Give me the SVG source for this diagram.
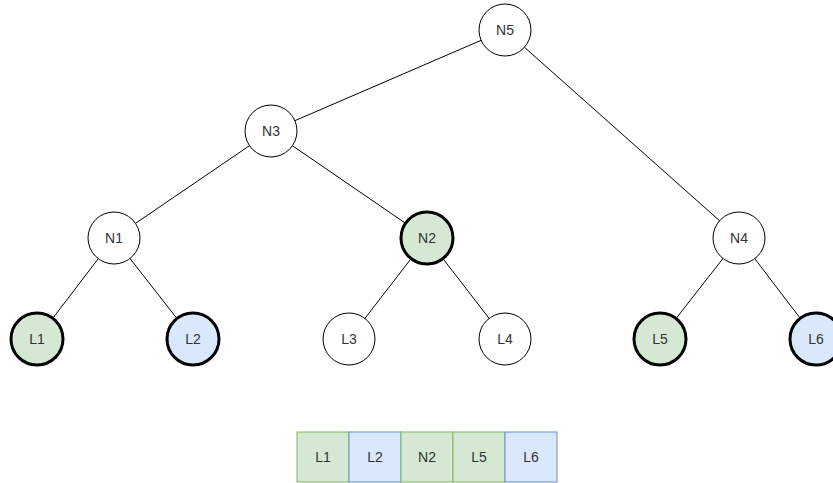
<svg xmlns="http://www.w3.org/2000/svg" width="833" height="483" viewBox="0 0 833 483">
<style>
.n{fill:#ffffff;stroke:#000;stroke-width:1}
.g{fill:#d5e8d4;stroke:#000;stroke-width:3}
.b{fill:#dae8fc;stroke:#000;stroke-width:3}
.e{stroke:#000;stroke-width:1;fill:none}
.t{font-family:"Liberation Sans",Arial,sans-serif;font-size:14px;fill:#333;text-anchor:middle;dominant-baseline:central}
.cg{fill:#d5e8d4;stroke:#82b366;stroke-width:1}
.cb{fill:#dae8fc;stroke:#6c8ebf;stroke-width:1}
</style>
<rect width="833" height="483" fill="#ffffff"/>
<g id="edges">
<line class="e" x1="505" y1="30" x2="271" y2="131"/>
<line class="e" x1="505" y1="30" x2="739" y2="238"/>
<line class="e" x1="271" y1="131" x2="114" y2="238"/>
<line class="e" x1="271" y1="131" x2="427" y2="238"/>
<line class="e" x1="114" y1="238" x2="37" y2="339"/>
<line class="e" x1="114" y1="238" x2="193" y2="339"/>
<line class="e" x1="427" y1="238" x2="349" y2="339"/>
<line class="e" x1="427" y1="238" x2="505" y2="339"/>
<line class="e" x1="739" y1="238" x2="660" y2="339"/>
<line class="e" x1="739" y1="238" x2="816" y2="339"/>
</g>
<g id="N5"><circle class="n" cx="505" cy="30" r="26"/><text class="t" x="505" y="30">N5</text></g>
<g id="N3"><circle class="n" cx="271" cy="131" r="26"/><text class="t" x="271" y="131">N3</text></g>
<g id="N1"><circle class="n" cx="114" cy="238" r="26"/><text class="t" x="114" y="238">N1</text></g>
<g id="N2"><circle class="g" cx="427" cy="238" r="26"/><text class="t" x="427" y="238">N2</text></g>
<g id="N4"><circle class="n" cx="739" cy="238" r="26"/><text class="t" x="739" y="238">N4</text></g>
<g id="L1"><circle class="g" cx="37" cy="339" r="26"/><text class="t" x="37" y="339">L1</text></g>
<g id="L2"><circle class="b" cx="193" cy="339" r="26"/><text class="t" x="193" y="339">L2</text></g>
<g id="L3"><circle class="n" cx="349" cy="339" r="26"/><text class="t" x="349" y="339">L3</text></g>
<g id="L4"><circle class="n" cx="505" cy="339" r="26"/><text class="t" x="505" y="339">L4</text></g>
<g id="L5"><circle class="g" cx="660" cy="339" r="26"/><text class="t" x="660" y="339">L5</text></g>
<g id="L6"><circle class="b" cx="816" cy="339" r="26"/><text class="t" x="816" y="339">L6</text></g>
<g id="array">
<rect class="cg" x="297" y="432" width="52" height="50"/><text class="t" x="323" y="457">L1</text>
<rect class="cb" x="349" y="432" width="52" height="50"/><text class="t" x="375" y="457">L2</text>
<rect class="cg" x="401" y="432" width="52" height="50"/><text class="t" x="427" y="457">N2</text>
<rect class="cg" x="453" y="432" width="52" height="50"/><text class="t" x="479" y="457">L5</text>
<rect class="cb" x="505" y="432" width="52" height="50"/><text class="t" x="531" y="457">L6</text>
</g>
</svg>
